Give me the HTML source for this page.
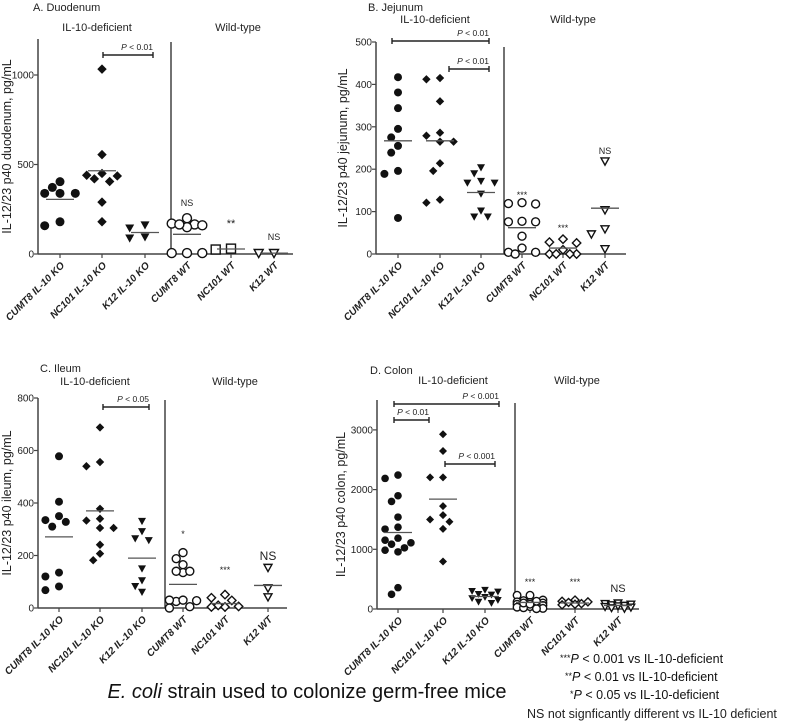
<!DOCTYPE html>
<html><head><meta charset="utf-8"><style>
body{margin:0;background:#fff;}
svg{display:block;font-family:"Liberation Sans",Arial,sans-serif;}
</style></head><body>
<svg id="fig" width="797" height="724" viewBox="0 0 797 724" xmlns="http://www.w3.org/2000/svg"></svg>
<script>
const categories=["CUMT8 IL-10 KO","NC101 IL-10 KO","K12 IL-10 KO","CUMT8 WT","NC101 WT","K12 WT"];
// A Duodenum
const duoCumt8KO=[404,372,339,339,339,180,158];
const duoNc101KO=[1033,555,450,436,420,405,440,290,180];
const duoK12KO=[162,145,95,89];
const duoCumt8WT=[200,165,160,170,150,165,5,5,5];
const duoNc101WT=[25,30];
const duoK12WT=[5,5];
const duoMeans=[305,465,120,110,28,5];
const duoTicks=[0,500,1000];
// B Jejunum
const jejCumt8KO=[417,381,344,295,275,255,239,196,189,85];
const jejNc101KO=[415,412,360,279,286,265,265,214,196,121,128];
const jejK12KO=[204,190,172,168,168,142,102,88,88];
const jejCumt8WT=[119,118,121,77,76,76,42,4,0,4,14];
const jejNc101WT=[28,26,35,10,0,0,0,0];
const jejK12WT=[219,104,59,47,12];
const jejMeans=[267,267,145,62,14,108];
const jejTicks=[0,100,200,300,400,500];
// C Ileum
const ileCumt8KO=[578,405,350,335,310,328,135,120,68,82];
const ileNc101KO=[688,556,540,378,333,340,305,305,241,207,182];
const ileK12KO=[331,265,258,292,150,105,83,61];
const ileCumt8WT=[211,188,165,135,140,140,25,30,28,30,5,0];
const ileNc101WT=[51,29,39,10,4,4,6];
const ileK12WT=[154,76,42];
const ileMeans=[271,370,190,90,17,86];
const ileTicks=[0,200,400,600,800];
// D Colon
const colCumt8KO=[2244,2188,1897,1802,1539,1371,1338,1187,1153,1086,1108,1024,985,957,358,246];
const colNc101KO=[2927,2647,2205,2205,1724,1573,1461,1500,1343,795];
const colK12KO=[320,300,290,250,240,200,180,150,120,100];
const colCumt8WT=[230,230,150,140,120,110,100,90,80,70,60,50,40,30,20,10,5,100,130,80];
const colNc101WT=[150,130,120,110,90,80,70];
const colK12WT=[100,90,80,70,60,50,40,30,20,10];
const colMeans=[1282,1841,210,110,100,60];
const colTicks=[0,1000,2000,3000];

const NS="http://www.w3.org/2000/svg";
const svg=document.getElementById('fig');
function mk(tag,attrs,parent){const e=document.createElementNS(NS,tag);for(const k in attrs)e.setAttribute(k,attrs[k]);(parent||svg).appendChild(e);return e;}
function txt(x,y,s,size,anchor,parent,extra){const t=mk('text',Object.assign({x:x,y:y,'font-size':size,'text-anchor':anchor||'start',fill:'#222'},extra||{}),parent);t.textContent=s;return t;}

function marker(g,shape,cx,cy,r){
  let e;const fill=shape.open?'#fff':'#111';const sw=shape.open?1.4:0;
  if(shape.t==='c')e=mk('circle',{cx:cx,cy:cy,r:r,fill:fill,stroke:'#111','stroke-width':sw},g);
  else if(shape.t==='d'){const s=r*1.05;e=mk('polygon',{points:`${cx},${cy-s} ${cx+s},${cy} ${cx},${cy+s} ${cx-s},${cy}`,fill:fill,stroke:'#111','stroke-width':sw},g);}
  else if(shape.t==='s'){e=mk('rect',{x:cx-r,y:cy-r,width:2*r,height:2*r,fill:fill,stroke:'#111','stroke-width':sw},g);}
  else {e=mk('polygon',{points:`${cx-r},${cy-r*0.8} ${cx+r},${cy-r*0.8} ${cx},${cy+r}`,fill:fill,stroke:'#111','stroke-width':sw},g);}
  return e;
}
function swarm(vals,yf,r){
  const placed=[];const order=vals.map((v,i)=>i).sort((a,b)=>vals[b]-vals[a]);const res=new Array(vals.length);
  const d=2*r+0.5;const s=r*1.7;
  const cands=[0,-s,s,-2*s,2*s];
  order.forEach(i=>{const y=yf(vals[i]);let best=0,bestD=-1;
    for(const off of cands){const md=placed.length?Math.min(...placed.map(p=>Math.hypot(p[0]-off,p[1]-y))):1e9;
      if(md>=d){best=off;bestD=1e9;break;}
      if(md>bestD){bestD=md;best=off;}}
    placed.push([best,y]);res[i]=best;
  });
  return res;
}
function panel(c){
  const g=mk('g',{},svg);
  
  
  const yf=v=>c.y0-v*c.ppu;
  const xf=i=>c.xs[i];
  txt(c.titleX,c.titleY,c.title,11,'start',g);
  txt(c.grpL[0],c.grpL[1],'IL-10-deficient',11,'middle',g);
  txt(c.grpW[0],c.grpW[1],'Wild-type',11,'middle',g);
  const ya=mk('line',{x1:c.ax,y1:c.top,x2:c.ax,y2:c.y0,stroke:'#444','stroke-width':1.5},g);
  
  const xa=mk('line',{x1:c.ax,y1:c.y0,x2:c.axEnd,y2:c.y0,stroke:'#444','stroke-width':1.5},g);
  
  const dv=mk('line',{x1:c.div,y1:c.divTop,x2:c.div,y2:c.y0,stroke:'#444','stroke-width':1.5},g);
  
  c.ticks.forEach(t=>{const y=yf(t);mk('line',{x1:c.ax-4,y1:y,x2:c.ax,y2:y,stroke:'#444','stroke-width':1.2},g);
    const l=txt(c.ax-4,y+3.5,String(t),10,'end',g);});
  const yt=txt(0,0,c.ytitle,12.5,'middle',g,{transform:`translate(${c.ytX},${(c.top+c.y0)/2}) rotate(-90)`});
  
  categories.forEach((cat,i)=>{const x=xf(i);
    mk('line',{x1:x,y1:c.y0,x2:x,y2:c.y0+4,stroke:'#444','stroke-width':1.2},g);
    const l=txt(0,0,cat,10,'end',g,{'font-weight':'bold','font-style':'italic',transform:`translate(${x+5},${c.y0+12}) rotate(-45)`});
    });
  c.groups.forEach((vals,gi)=>{const offs=swarm(vals,yf,c.r);
    vals.forEach((v,i)=>{const m=marker(g,c.shapes[gi],xf(gi)+offs[i],yf(v),c.r);
      });
    const ml=mk('line',{x1:xf(gi)-c.mw,y1:yf(c.means[gi]),x2:xf(gi)+c.mw,y2:yf(c.means[gi]),stroke:'#555','stroke-width':1.3},g);
    
  });
  c.stars.forEach(s=>{const l=txt(xf(s[0]),s[1],s[2],s[3],'middle',g);});
  c.brackets.forEach(b=>{const bg=mk('g',{},g);
    
    
    mk('line',{x1:b[0],y1:b[2],x2:b[1],y2:b[2],stroke:'#222','stroke-width':1.4},bg);
    mk('line',{x1:b[0],y1:b[2]-3,x2:b[0],y2:b[2]+3,stroke:'#222','stroke-width':1.4},bg);
    mk('line',{x1:b[1],y1:b[2]-3,x2:b[1],y2:b[2]+3,stroke:'#222','stroke-width':1.4},bg);
    const t=mk('text',{x:b[1],y:b[2]-5,'font-size':8.5,'text-anchor':'end',fill:'#222'},bg);
    const p=mk('tspan',{'font-style':'italic'},t);p.textContent='P';
    const r=mk('tspan',{},t);r.textContent=' < '+b[3];
  });
}
const F={t:'c'},D={t:'d'},T={t:'v'},OC={t:'c',open:1},OS={t:'s',open:1},OD={t:'d',open:1},OT={t:'v',open:1};
panel({name:'panel-a-duodenum',title:'A. Duodenum',titleX:33,titleY:11,grpL:[97,31],grpW:[238,31],ax:38,y0:254,ppu:179/1000,top:39,axEnd:293,div:171,divTop:42,
  xs:[60,102,145,187,231,274],ticks:duoTicks,ytitle:'IL-12/23 p40 duodenum, pg/mL',ytX:11,r:4.5,mw:14,
  groups:[duoCumt8KO,duoNc101KO,duoK12KO,duoCumt8WT,duoNc101WT,duoK12WT],means:duoMeans,shapes:[F,D,T,OC,OS,OT],
  stars:[[3,206,'NS',9],[4,227,'**',11],[5,240,'NS',9]],brackets:[[103,153,55,'0.01']]});
panel({name:'panel-b-jejunum',title:'B. Jejunum',titleX:368,titleY:11,grpL:[435,23],grpW:[573,23],ax:376,y0:254,ppu:0.424,top:42,axEnd:626,div:504,divTop:47,
  xs:[398,440,481,522,563,605],ticks:jejTicks,ytitle:'IL-12/23 p40 jejunum, pg/mL',ytX:347,r:4,mw:14,
  groups:[jejCumt8KO,jejNc101KO,jejK12KO,jejCumt8WT,jejNc101WT,jejK12WT],means:jejMeans,shapes:[F,D,T,OC,OD,OT],
  stars:[[3,198,'***',9],[4,231,'***',9],[5,154,'NS',9]],brackets:[[392,489,41,'0.01'],[449,489,69,'0.01']]});
panel({name:'panel-c-ileum',title:'C. Ileum',titleX:40,titleY:372,grpL:[95,385],grpW:[235,385],ax:38,y0:608,ppu:210/800,top:398,axEnd:287,div:165,divTop:400,
  xs:[59,100,142,183,225,268],ticks:ileTicks,ytitle:'IL-12/23 p40 ileum, pg/mL',ytX:11,r:4,mw:14,
  groups:[ileCumt8KO,ileNc101KO,ileK12KO,ileCumt8WT,ileNc101WT,ileK12WT],means:ileMeans,shapes:[F,D,T,OC,OD,OT],
  stars:[[3,537,'*',9],[4,573,'***',9],[5,560,'NS',12]],brackets:[[103,149,407,'0.05']]});
panel({name:'panel-d-colon',title:'D. Colon',titleX:370,titleY:374,grpL:[453,384],grpW:[577,384],ax:377,y0:609,ppu:59.7/1000,top:400,axEnd:639,div:515,divTop:403,
  xs:[398,443,485,530,575,618],ticks:colTicks,ytitle:'IL-12/23 p40 colon, pg/mL',ytX:345,r:3.8,mw:14,
  groups:[colCumt8KO,colNc101KO,colK12KO,colCumt8WT,colNc101WT,colK12WT],means:colMeans,shapes:[F,D,T,OC,OD,OT],
  stars:[[3,585,'***',9],[4,585,'***',9],[5,592,'NS',11]],brackets:[[394,429,420,'0.01'],[394,499,404,'0.001'],[445,495,464,'0.001']]});

const cap=mk('text',{x:307,y:698,'font-size':20,'text-anchor':'middle',fill:'#111'});

const ci=mk('tspan',{'font-style':'italic'},cap);ci.textContent='E. coli';
const cr=mk('tspan',{},cap);cr.textContent=' strain used to colonize germ-free mice';
const leg=mk('g',{},svg);

[['***','P',' < 0.001 vs IL-10-deficient',663,560],['**','P',' < 0.01 vs IL-10-deficient',681,565],['*','P',' < 0.05 vs IL-10-deficient',699,570]].forEach(r=>{
  const t=mk('text',{x:r[4],y:r[3],'font-size':12.5,fill:'#111'},leg);
  const a=mk('tspan',{'font-size':9,dy:'-2'},t);a.textContent=r[0];
  const b=mk('tspan',{'font-style':'italic',dy:'2'},t);b.textContent=r[1];
  const c=mk('tspan',{},t);c.textContent=r[2];
});
txt(527,718,'NS not signficantly different vs IL-10 deficient',12.5,'start',leg);
</script>
</body></html>
